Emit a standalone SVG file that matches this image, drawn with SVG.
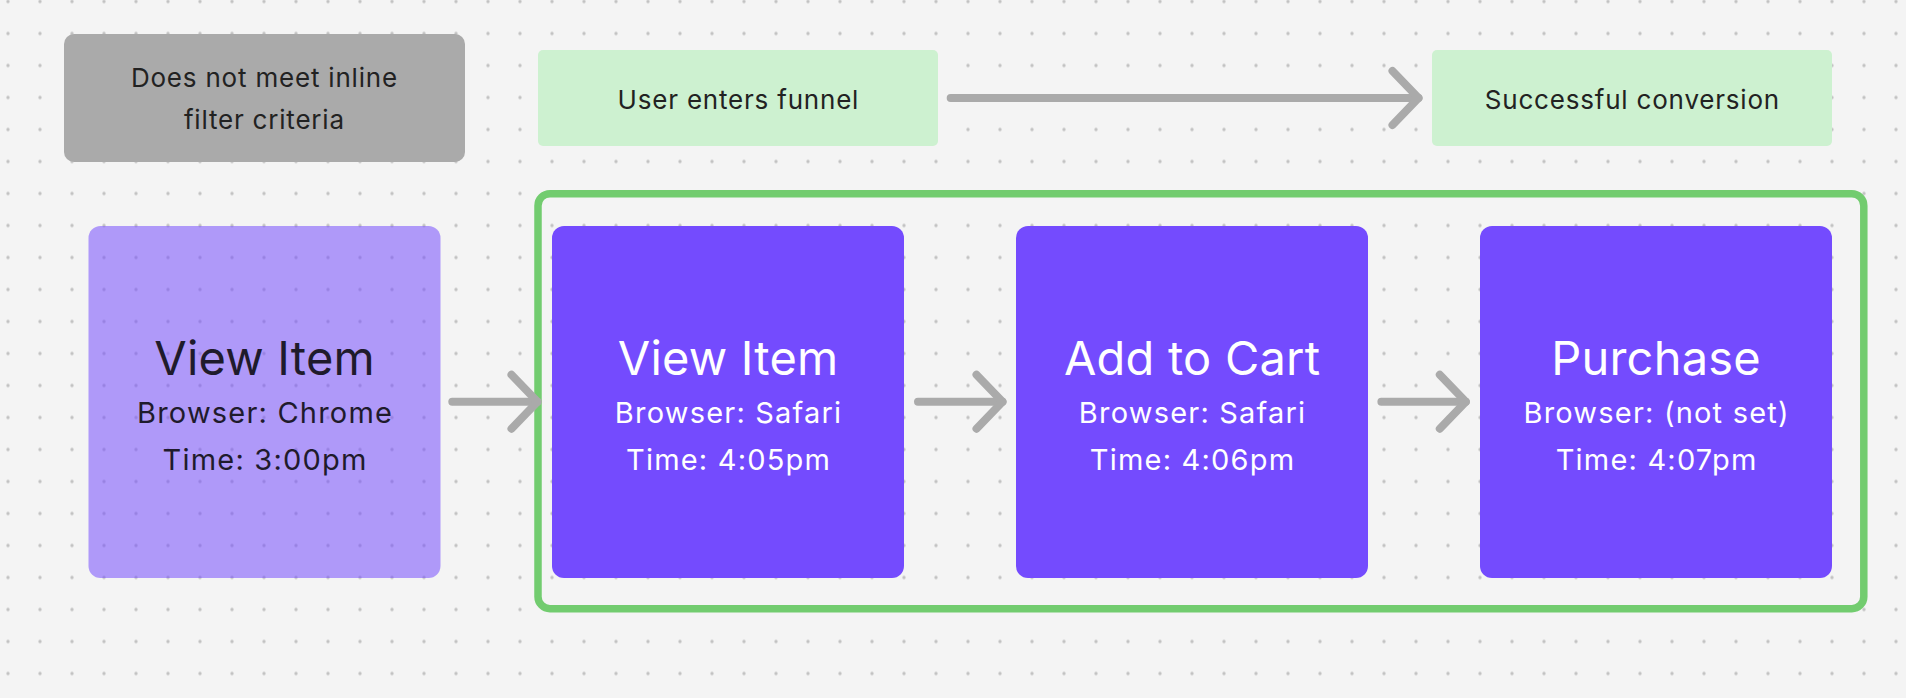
<svg xmlns="http://www.w3.org/2000/svg" width="1906" height="698" viewBox="0 0 1906 698">
  <defs>
    <pattern id="dots" patternUnits="userSpaceOnUse" x="-8" y="-14.5" width="32" height="32">
      <circle cx="16" cy="16" r="1.7" fill="#c2c2c2"/>
    </pattern>
    <marker id="chev" markerUnits="userSpaceOnUse" orient="auto" refX="0" refY="0" markerWidth="80" markerHeight="80" viewBox="-40 -40 80 80" overflow="visible">
      <path d="M -26 -27 L 0 0 L -26 27" fill="none" stroke="#aaaaaa" stroke-width="8" stroke-linecap="round" stroke-linejoin="round"/>
    </marker>
    <style>
      .bg { fill: #f4f4f4; }
      .gray { fill: #aaaaaa; }
      .green { fill: #cdf1d0; }
      .purple { fill: #744bfe; }
      .lpurple { fill: #744bfe; fill-opacity: 0.54; }
      .frame { fill: none; stroke: #72cc6f; stroke-width: 7.5; }
      .conn { fill: none; stroke: #aaaaaa; stroke-width: 8; stroke-linecap: round; marker-end: url(#chev); }
      text { font-family: Inter, "Noto Sans", "Liberation Sans", sans-serif; text-anchor: middle; }
      .label { font-size: 26px; fill: #222222; letter-spacing: 0.8px; }
      .title { font-size: 47px; letter-spacing: 0.2px; }
      .sub { font-size: 29px; letter-spacing: 1.2px; }
      .dark { fill: #1f1b2c; }
      .light { fill: #ffffff; }
    </style>
  </defs>

  <rect class="bg" x="0" y="0" width="1906" height="698"/>
  <rect x="0" y="0" width="1906" height="698" fill="url(#dots)"/>

  <g id="not-meet">
    <rect class="gray" x="64" y="34" width="401" height="128" rx="10"/>
    <text class="label" x="264.4" y="87.3">Does not meet inline</text>
    <text class="label" x="264.4" y="129.3">filter criteria</text>
  </g>

  <g id="enters-funnel">
    <rect class="green" x="538" y="50" width="400" height="96" rx="5"/>
    <text class="label" x="738.4" y="109">User enters funnel</text>
  </g>

  <g id="conversion">
    <rect class="green" x="1432" y="50" width="400" height="96" rx="5"/>
    <text class="label" x="1632.4" y="109">Successful conversion</text>
  </g>

  <g id="funnel-frame">
    <rect class="frame" x="538" y="193.7" width="1325.8" height="415" rx="12"/>
  </g>

  <g id="view-item-chrome">
    <rect class="lpurple" x="88.5" y="226" width="352" height="352" rx="12"/>
    <text class="title dark" x="264.6" y="375">View Item</text>
    <text class="sub dark" x="265.1" y="422.7">Browser: Chrome</text>
    <text class="sub dark" x="265.1" y="470">Time: 3:00pm</text>
  </g>

  <g id="view-item-safari">
    <rect class="purple" x="552" y="226" width="352" height="352" rx="12"/>
    <text class="title light" x="728.1" y="375">View Item</text>
    <text class="sub light" x="728.6" y="422.7">Browser: Safari</text>
    <text class="sub light" x="728.6" y="470">Time: 4:05pm</text>
  </g>

  <g id="add-to-cart">
    <rect class="purple" x="1016" y="226" width="352" height="352" rx="12"/>
    <text class="title light" x="1192.1" y="375">Add to Cart</text>
    <text class="sub light" x="1192.6" y="422.7">Browser: Safari</text>
    <text class="sub light" x="1192.6" y="470">Time: 4:06pm</text>
  </g>

  <g id="purchase">
    <rect class="purple" x="1480" y="226" width="352" height="352" rx="12"/>
    <text class="title light" x="1656.1" y="375">Purchase</text>
    <text class="sub light" x="1656.6" y="422.7">Browser: (not set)</text>
    <text class="sub light" x="1656.6" y="470">Time: 4:07pm</text>
  </g>

  <g id="connectors">
    <path class="conn" d="M 950.7 98 L 1418.5 98"/>
    <path class="conn" d="M 452.3 401.7 L 537.5 401.7"/>
    <path class="conn" d="M 918 401.7 L 1002.5 401.7"/>
    <path class="conn" d="M 1381.4 401.7 L 1465.8 401.7"/>
  </g>
</svg>
